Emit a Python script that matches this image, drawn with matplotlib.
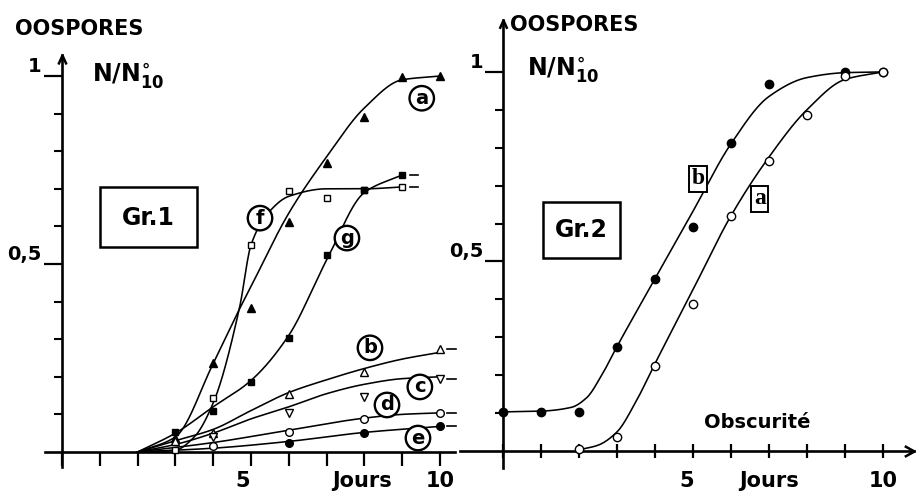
import numpy as np
import matplotlib

matplotlib.use("Agg")
import matplotlib.pyplot as plt
from matplotlib.path import Path
from matplotlib.patches import Rectangle

W, H = 916, 492
plt.rcParams["font.family"] = ["DejaVu Sans"]
plt.rcParams["font.weight"] = "bold"

# --- Gr.1: observed points (day, N/N10) -------------------------------------
a1_x = [3, 4, 5, 6, 7, 8, 9, 10]
a1_y = [0.037, 0.237, 0.383, 0.612, 0.768, 0.89, 0.997, 1.0]
f1_x = [3, 4, 5, 6, 7, 8, 9]
f1_y = [0.005, 0.143, 0.55, 0.695, 0.676, 0.697, 0.705]
g1_x = [3, 4, 5, 6, 7, 8, 9]
g1_y = [0.053, 0.109, 0.186, 0.303, 0.524, 0.697, 0.737]
b1_x = [3, 4, 6, 8, 10]
b1_y = [0.03, 0.05, 0.155, 0.213, 0.273]
c1_x = [4, 6, 8, 10]
c1_y = [0.04, 0.103, 0.147, 0.195]
d1_x = [4, 6, 8, 10]
d1_y = [0.016, 0.053, 0.088, 0.104]
e1_x = [6, 8, 10]
e1_y = [0.024, 0.05, 0.069]

# --- Gr.1: hand-drawn curves ------------------------------------------------
a1_fit_x = [2, 3, 4, 4.72, 5, 6, 7, 8, 9, 10]
a1_fit_y = [0, 0.04, 0.235, 0.385, 0.44, 0.635, 0.785, 0.915, 0.99, 1.0]
f1_fit_x = [2, 3, 3.5, 4, 4.7, 5, 5.45, 6, 7, 8, 9]
f1_fit_y = [0, 0.005, 0.04, 0.13, 0.385, 0.55, 0.635, 0.68, 0.70, 0.70, 0.705]
g1_fit_x = [2, 3, 4, 5, 6, 7, 8, 9]
g1_fit_y = [0, 0.05, 0.12, 0.19, 0.31, 0.51, 0.69, 0.737]
b1_fit_x = [2, 3, 4, 5, 6, 7, 8, 9, 10]
b1_fit_y = [0, 0.03, 0.06, 0.11, 0.158, 0.192, 0.222, 0.247, 0.265]
c1_fit_x = [2, 3, 4, 5, 6, 7, 8, 9, 10]
c1_fit_y = [0, 0.02, 0.05, 0.088, 0.12, 0.155, 0.18, 0.195, 0.2]
d1_fit_x = [2, 4, 6, 8, 9, 10]
d1_fit_y = [0, 0.025, 0.058, 0.09, 0.1, 0.104]
e1_fit_x = [2, 4, 6, 8, 10]
e1_fit_y = [0, 0.01, 0.028, 0.052, 0.068]

# --- Gr.2 (Obscurite) ------------------------------------------------------
b2_x = [0, 1, 2, 3, 4, 5, 6, 7, 9, 10]
b2_y = [0.103, 0.103, 0.103, 0.274, 0.454, 0.591, 0.813, 0.968, 1.0, 1.0]
a2_x = [2, 3, 4, 5, 6, 7, 8, 9, 10]
a2_y = [0.005, 0.037, 0.224, 0.388, 0.62, 0.765, 0.887, 0.99, 1.0]
b2_fit_x = [0, 1, 1.8, 2.2, 2.6, 3, 4, 5, 6, 7, 8, 9, 10]
b2_fit_y = [0.103, 0.105, 0.115, 0.14, 0.2, 0.275, 0.454, 0.632, 0.81, 0.935,
            0.985, 0.998, 1.0]
a2_fit_x = [2, 2.5, 3, 3.5, 4, 5, 6, 7, 8, 9, 10]
a2_fit_y = [0.003, 0.015, 0.05, 0.13, 0.23, 0.425, 0.62, 0.775, 0.9, 0.98, 1.0]

day_ticks = list(range(0, 11))
y_minor = [0.1, 0.2, 0.3, 0.4, 0.5, 0.6, 0.7, 0.8, 0.9, 1.0]
y_major = [0.5, 1.0]
y_major_labels = ["0,5", "1"]


def smooth(x, y, n=300):
    """Monotone cubic (Fritsch-Carlson) through the hand-drawn curve points."""
    x = np.asarray(x, float)
    y = np.asarray(y, float)
    h = np.diff(x)
    d = np.diff(y) / h
    m = np.zeros_like(y)
    m[0], m[-1] = d[0], d[-1]
    for k in range(1, len(x) - 1):
        if d[k - 1] * d[k] > 0:
            w1 = 2 * h[k] + h[k - 1]
            w2 = h[k] + 2 * h[k - 1]
            m[k] = (w1 + w2) / (w1 / d[k - 1] + w2 / d[k])
    xs = np.linspace(x[0], x[-1], n)
    i = np.clip(np.searchsorted(x, xs) - 1, 0, len(h) - 1)
    t = (xs - x[i]) / h[i]
    ys = ((2 * t**3 - 3 * t**2 + 1) * y[i] + (t**3 - 2 * t**2 + t) * h[i] * m[i]
          + (-2 * t**3 + 3 * t**2) * y[i + 1] + (t**3 - t**2) * h[i] * m[i + 1])
    return xs, ys


CHEV_UP = Path([(-0.45, -1.0), (0, 0), (0.45, -1.0)],
               [Path.MOVETO, Path.LINETO, Path.LINETO])
CHEV_RIGHT = Path([(-1.0, 0.55), (0, 0), (-1.0, -0.55)],
                  [Path.MOVETO, Path.LINETO, Path.LINETO])


def setup_axes(ax, xlim, ylim, tick_dir):
    ax.set_xlim(*xlim)
    ax.set_ylim(*ylim)
    for s in ("top", "right"):
        ax.spines[s].set_visible(False)
    ax.spines["left"].set_position(("data", 0))
    ax.spines["bottom"].set_position(("data", 0))
    for s in ("left", "bottom"):
        ax.spines[s].set_linewidth(1.9)
    ax.set_xticks(day_ticks)
    ax.set_xticklabels([])
    ax.tick_params(axis="x", direction=tick_dir, length=10, width=1.6)
    ax.set_yticks(y_major)
    ax.set_yticklabels([])
    ax.tick_params(axis="y", which="major", direction="out", length=13, width=1.6)
    ax.set_yticks(y_minor, minor=True)
    ax.tick_params(axis="y", which="minor", direction="out", length=6, width=1.5)
    ax.patch.set_alpha(0)


def tail(ax, x, y):
    """Short trailing dash after a curve's last point."""
    ax.plot([x[-1] + 0.2, x[-1] + 0.42], [y[-1], y[-1]], color="black", lw=1.2,
            clip_on=False)


fig = plt.figure(figsize=(W / 100, H / 100), dpi=100)


def px(x, y):
    return x / W, 1 - y / H


def box(x0, y0, x1, y1):
    fig.patches.append(Rectangle((x0 / W, 1 - y1 / H), (x1 - x0) / W,
                                 (y1 - y0) / H, transform=fig.transFigure,
                                 fill=False, ec="black", lw=1.8))


RATIO = r"$\mathbf{N/N}^{\circ}_{\mathbf{10}}$"

# ---------------------------------------------------------------- Gr.1 ----
ax1 = fig.add_axes([45 / W, 25 / H, 410 / W, 412 / H])
setup_axes(ax1, (-0.45, 10.4), (-0.04, 1.056), "out")
ax1.plot([0], [1.056], marker=CHEV_UP, ms=13, mfc="none", mec="black", mew=1.8,
         clip_on=False)

lw = 1.15
ms = 5.5
series1 = [
    (a1_fit_x, a1_fit_y, a1_x, a1_y, "^", "black"),
    (f1_fit_x, f1_fit_y, f1_x, f1_y, "s", "white"),
    (g1_fit_x, g1_fit_y, g1_x, g1_y, "s", "black"),
    (b1_fit_x, b1_fit_y, b1_x, b1_y, "^", "white"),
    (c1_fit_x, c1_fit_y, c1_x, c1_y, "v", "white"),
    (d1_fit_x, d1_fit_y, d1_x, d1_y, "o", "white"),
    (e1_fit_x, e1_fit_y, e1_x, e1_y, "o", "black"),
]
for fx, fy, x, y, mk, face in series1:
    xs, ys = smooth(fx, fy)
    ax1.plot(xs, ys, color="black", lw=lw, zorder=2)
    ax1.plot(x, y, mk, ms=ms if mk != "s" else ms - 0.5, mfc=face, mec="black",
             mew=1.0, zorder=3, clip_on=False)
for x, y in [(f1_x, f1_y), (g1_x, g1_y), (b1_x, b1_y), (c1_x, c1_y),
             (d1_x, d1_y), (e1_x, e1_y)]:
    tail(ax1, x, y)

circled = {"a": (9.52, 0.941), "f": (5.24, 0.622), "g": (7.54, 0.569),
           "b": (8.15, 0.277), "c": (9.47, 0.173), "d": (8.6, 0.125),
           "e": (9.42, 0.037)}
for lab, (x, y) in circled.items():
    ax1.text(x, y, lab, ha="center", va="center", fontsize=14, fontweight="bold",
             bbox=dict(boxstyle="circle,pad=0.14", fc="white", ec="black", lw=1.7),
             zorder=4)

box(100, 187, 197, 247)
fig.text(*px(148, 218), "Gr.1", ha="center", va="center", fontsize=17,
         fontweight="bold")
fig.text(*px(15, 29), "OOSPORES", ha="left", va="center", fontsize=15,
         fontweight="bold")
fig.text(*px(92, 75), RATIO, ha="left", va="center", fontsize=17)

# ---------------------------------------------------------------- Gr.2 ----
ax2 = fig.add_axes([460 / W, 24 / H, 454 / W, 448 / H])
setup_axes(ax2, (-1.13, 10.82), (-0.045, 1.137), "inout")
ax2.plot([0], [1.137], marker=CHEV_UP, ms=12, mfc="none", mec="black", mew=1.8,
         clip_on=False)
ax2.plot([10.82], [0], marker=CHEV_RIGHT, ms=14, mfc="none", mec="black",
         mew=1.8, clip_on=False)

for fx, fy, x, y, face in [(b2_fit_x, b2_fit_y, b2_x, b2_y, "black"),
                           (a2_fit_x, a2_fit_y, a2_x, a2_y, "white")]:
    xs, ys = smooth(fx, fy)
    ax2.plot(xs, ys, color="black", lw=lw, zorder=2)
    ax2.plot(x, y, "o", ms=6, mfc=face, mec="black", mew=1.0, zorder=3,
             clip_on=False)

boxed = {"b": (5.13, 0.718), "a": (6.76, 0.665)}
for lab, (x, y) in boxed.items():
    ax2.text(x, y, lab, ha="center", va="center", fontsize=17, fontweight="bold",
             family="Liberation Serif",
             bbox=dict(boxstyle="square,pad=0.1", fc="white", ec="black", lw=1.4),
             zorder=4)

box(543, 202, 620, 258)
fig.text(*px(581, 230), "Gr.2", ha="center", va="center", fontsize=17,
         fontweight="bold")
fig.text(*px(510, 25), "OOSPORES", ha="left", va="center", fontsize=15,
         fontweight="bold")
fig.text(*px(527, 70), RATIO, ha="left", va="center", fontsize=17)
fig.text(*px(757, 423), "Obscurité", ha="center", va="center", fontsize=14,
         fontweight="bold")

# y labels "1" and "0,5" sit above their long ticks
for ax, xoff in [(ax1, -0.55), (ax2, -0.5)]:
    for v, lab in zip(y_major, y_major_labels):
        ax.text(xoff, v, lab, ha="right", va="bottom", fontsize=14,
                fontweight="bold", clip_on=False)

# day labels under the x axes
for x5, xj, x10 in [(243, 362, 440), (687, 769, 883)]:
    fig.text(*px(x5, 481), "5", ha="center", va="center", fontsize=15,
             fontweight="bold")
    fig.text(*px(xj, 481), "Jours", ha="center", va="center", fontsize=15,
             fontweight="bold")
    fig.text(*px(x10, 481), "10", ha="center", va="center", fontsize=15,
             fontweight="bold")

fig.savefig("out.png", dpi=100, facecolor="white")
